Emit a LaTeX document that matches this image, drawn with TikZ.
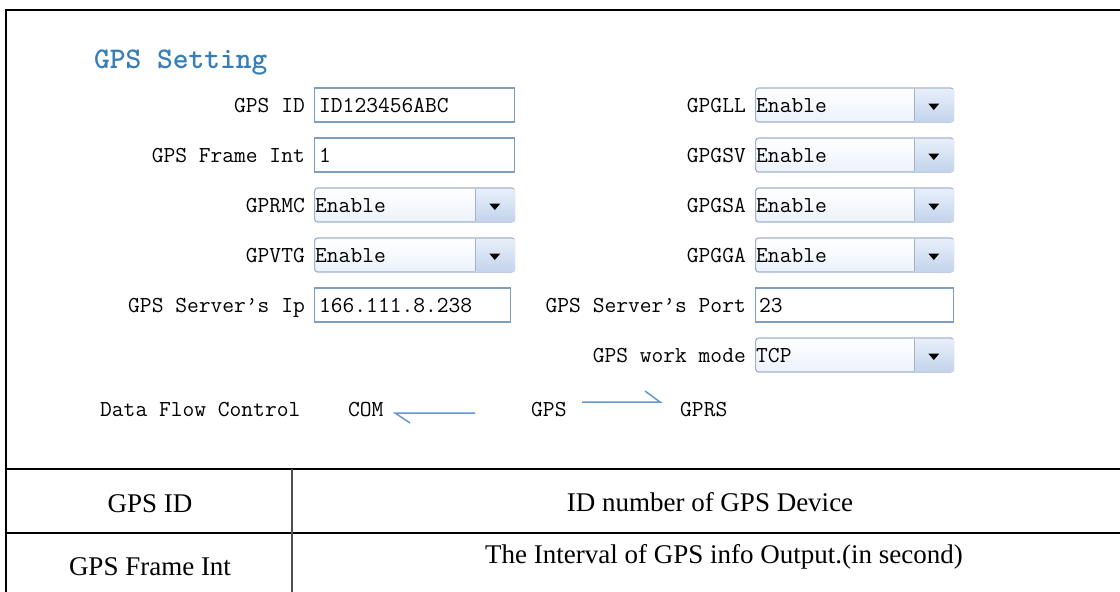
\documentclass[tikz,border=0pt]{standalone}
\usepackage{fontspec}
\newfontfamily\tabfont{Liberation Serif}
\usetikzlibrary{calc}
\definecolor{tbcol}{RGB}{127,157,190}
\definecolor{ddcol}{RGB}{160,178,204}
\definecolor{ddbg}{RGB}{236,242,251}
\definecolor{btntop}{RGB}{232,239,250}
\definecolor{btnbot}{RGB}{196,212,236}
\definecolor{ttlcol}{RGB}{56,126,184}
\definecolor{arrcol}{RGB}{100,150,205}
\definecolor{divcol}{RGB}{80,80,80}
\newcommand\lbfont{\ttfamily\fontsize{22.86}{24}\selectfont}
\newcommand\ttlfont{\ttfamily\bfseries\fontsize{30}{32}\selectfont}
\newcommand\tbfont{\tabfont\fontsize{27}{30}\selectfont}
\newcommand\ddown[5]{%
  \node[ddbox, minimum width=#4] (#1) at (#2,#3) {};
  \node[ddbtn] (#1b) at ([xshift=-0.7pt]#1.east) {};
  \draw[ddcol, line width=1pt] (#1b.north west) -- (#1b.south west);
  \fill ($(#1b.center)+(-5.5,-1.5)$) -- ++(11,0) -- ++(-5.5,6.5) -- cycle;
  \node[val] (#1t) at (#2+1,#3+7) {#5};
}
\begin{document}
\begin{tikzpicture}[x=1pt,y=-1pt,
  frameline/.style={line width=1.5pt, draw=black},
  lbl/.style={font=\lbfont, anchor=base east, inner sep=0pt},
  val/.style={font=\lbfont, anchor=base west, inner sep=0pt},
  ttl/.style={font=\ttlfont, text=ttlcol, anchor=base west, inner sep=0pt},
  tb/.style={font=\tbfont, anchor=base, inner sep=0pt},
  tbox/.style={draw=tbcol, line width=1.2pt, fill=white, minimum height=34pt, inner sep=0pt, anchor=west},
  ddbox/.style={draw=ddcol, line width=1.2pt, rounded corners=3pt, top color=white, bottom color=ddbg, minimum height=34pt, inner sep=0pt, anchor=west},
  ddbtn/.style={top color=btntop, bottom color=btnbot, minimum width=39pt, minimum height=32pt, inner sep=0pt, anchor=east},
  flow/.style={draw=arrcol, line width=1.5pt}]
\useasboundingbox (0,0) rectangle (1120,592);
\fill[white] (0,0) rectangle (1120,592);
% table borders
\draw[frameline] (6,592) -- (6,10) -- (1120,10);
\draw[frameline] (6,469) -- (1120,469);
\draw[frameline] (6,533) -- (1120,533);
\draw[frameline, draw=divcol] (292,469) -- (292,592);
% title
\node[ttl] (title) at (94,68) {GPS Setting};
% left column
\node[lbl] (lid) at (305,112) {GPS ID};
\node[tbox, minimum width=200] (bid) at (314,105) {};
\node[val] (vid) at (319,112) {ID123456ABC};
\node[lbl] (lfr) at (305,162) {GPS Frame Int};
\node[tbox, minimum width=200] (bfr) at (314,155) {};
\node[val] (vfr) at (319,162) {1};
\node[lbl] (lrmc) at (305,212) {GPRMC};
\ddown{drmc}{314}{205}{200}{Enable}
\node[lbl] (lvtg) at (305,262) {GPVTG};
\ddown{dvtg}{314}{255}{200}{Enable}
\node[lbl] (lip) at (305,312) {GPS Server’s Ip};
\node[tbox, minimum width=196] (bip) at (314,305) {};
\node[val] (vip) at (319,312) {166.111.8.238};
% right column
\node[lbl] (lgll) at (746,112) {GPGLL};
\ddown{dgll}{755}{105}{198}{Enable}
\node[lbl] (lgsv) at (746,162) {GPGSV};
\ddown{dgsv}{755}{155}{198}{Enable}
\node[lbl] (lgsa) at (746,212) {GPGSA};
\ddown{dgsa}{755}{205}{198}{Enable}
\node[lbl] (lgga) at (746,262) {GPGGA};
\ddown{dgga}{755}{255}{198}{Enable}
\node[lbl] (lport) at (746,312) {GPS Server’s Port};
\node[tbox, minimum width=198] (bport) at (755,305) {};
\node[val] (vport) at (759,312) {23};
\node[lbl] (lmode) at (746,362) {GPS work mode};
\ddown{dmode}{755}{355}{198}{TCP}
% data flow
\node[val] (dfc) at (100,416) {Data Flow Control};
\node[val] (com) at (348,416) {COM};
\node[val] (gps) at (531,416) {GPS};
\node[val] (gprs) at (680,416) {GPRS};
\coordinate (comA) at (395,413);
\coordinate (comB) at (475,413);
\coordinate (gpsA) at (582,402);
\coordinate (gpsB) at (660,402);
\draw[flow] (comB) -- (comA) -- ++(15,10);
\draw[flow] (gpsA) -- (gpsB) -- ++(-15,-11);
% table text
\node[tb] (t11) at (150,512) {GPS ID};
\node[tb] (t12) at (710,511) {ID number of GPS Device};
\node[tb] (t21) at (150,575) {GPS Frame Int};
\node[tb] (t22) at (724,563) {The Interval of GPS info Output.(in second)};
\end{tikzpicture}
\end{document}
